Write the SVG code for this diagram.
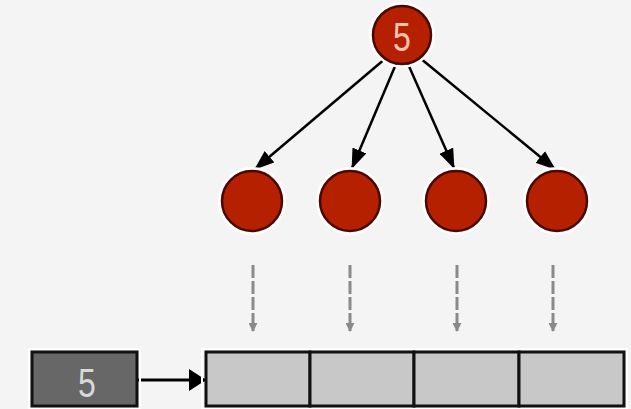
<svg xmlns="http://www.w3.org/2000/svg" width="631" height="409" viewBox="0 0 631 409">
  <defs>
    <marker id="head" viewBox="0 0 20 15" refX="19" refY="7.5" markerWidth="20" markerHeight="15" orient="auto" markerUnits="userSpaceOnUse">
      <path d="M0,0 L20,7.5 L0,15 z" fill="#000"/>
    </marker>
    <marker id="bighead" viewBox="0 0 17 22" refX="16" refY="11" markerWidth="17" markerHeight="22" orient="auto" markerUnits="userSpaceOnUse">
      <path d="M0,0 L17,11 L0,22 z" fill="#000"/>
    </marker>
    <marker id="dothead" viewBox="0 0 10 10" refX="9" refY="5" markerWidth="3" markerHeight="3" orient="auto" markerUnits="strokeWidth">
      <path d="M0,0 L10,5 L0,10 z" fill="#8a8a8a"/>
    </marker>
    <style>
      .node { fill: #b52000; stroke: #4a0800; stroke-width: 2.5; }
      .halo { fill: none; stroke: #ffffff; stroke-width: 3; }
      .edge { stroke: #000; stroke-width: 2.5; fill: none; marker-end: url(#head); }
      .feed { stroke: #000; stroke-width: 3; fill: none; marker-end: url(#bighead); }
      .dash { stroke: #8a8a8a; stroke-width: 3; stroke-dasharray: 13 3; fill: none; marker-end: url(#dothead); }
      .cell { fill: #c8c8c8; stroke: #111; stroke-width: 3; }
      .key { fill: #676767; stroke: #111; stroke-width: 3; }
      .lbl { font-family: "Liberation Sans", Arial, sans-serif; font-size: 40px; text-anchor: middle; }
    </style>
  </defs>
  <rect width="631" height="409" fill="#f4f4f4"/>

  <!-- tree edges and copy-down arrows -->
  <g id="connectors">
    <line class="edge" x1="386" y1="58" x2="255" y2="169"/>
    <line class="edge" x1="396" y1="64" x2="352" y2="168"/>
    <line class="edge" x1="408" y1="64" x2="454" y2="168"/>
    <line class="edge" x1="420" y1="58" x2="555" y2="169"/>
    <line class="dash" x1="253" y1="265" x2="253" y2="331"/>
    <line class="dash" x1="350" y1="265" x2="350" y2="331"/>
    <line class="dash" x1="457" y1="265" x2="457" y2="331"/>
    <line class="dash" x1="553" y1="265" x2="553" y2="331"/>
    <line class="feed" x1="138" y1="380" x2="205" y2="380"/>
  </g>

  <!-- root -->
  <g id="root">
    <circle class="halo" cx="402" cy="35" r="31.5"/>
    <circle class="node" cx="402" cy="35" r="29"/>
    <text class="lbl" transform="translate(402 51) scale(0.8 1)" fill="#f6c4b4">5</text>
  </g>

  <!-- children -->
  <g id="child1">
    <circle class="halo" cx="252" cy="201" r="32.5"/>
    <circle class="node" cx="252" cy="201" r="30"/>
  </g>
  <g id="child2">
    <circle class="halo" cx="350" cy="201" r="32.5"/>
    <circle class="node" cx="350" cy="201" r="30"/>
  </g>
  <g id="child3">
    <circle class="halo" cx="456" cy="201" r="32.5"/>
    <circle class="node" cx="456" cy="201" r="30"/>
  </g>
  <g id="child4">
    <circle class="halo" cx="557" cy="201" r="32.5"/>
    <circle class="node" cx="557" cy="201" r="30"/>
  </g>

  <!-- broadcast value -->
  <g id="value">
    <rect x="29" y="349" width="111" height="60" fill="none" stroke="#fff" stroke-width="2"/>
    <rect class="key" x="32" y="352" width="105" height="54"/>
    <text class="lbl" transform="translate(87 397) scale(0.8 1)" fill="#d8d8d8">5</text>
  </g>

  <!-- destination array -->
  <g id="array">
    <rect x="202" y="349" width="425" height="60" fill="none" stroke="#fff" stroke-width="2"/>
    <rect class="cell" x="206" y="352" width="104" height="54"/>
    <rect class="cell" x="310" y="352" width="104" height="54"/>
    <rect class="cell" x="414" y="352" width="105" height="54"/>
    <rect class="cell" x="519" y="352" width="105" height="54"/>
  </g>
</svg>
